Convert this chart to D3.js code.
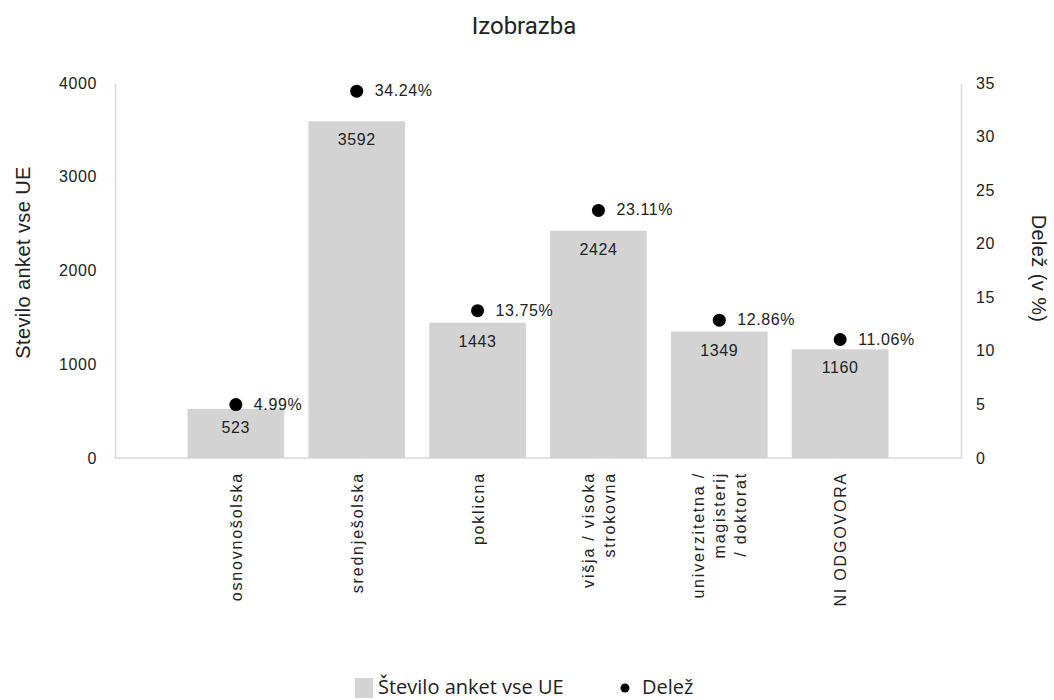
<!DOCTYPE html>
<meta charset="utf-8" />
<script src="https://d3js.org/d3.v7.min.js"></script>
<body style="margin:0">
  <div id="my_dataviz"></div>
  <script>
    // data
    const categories = ["osnovnošolska", "srednješolska", "poklicna", "višja / visoka strokovna", "univerzitetna / magisterij / doktorat", "NI ODGOVORA"];
    const labelLines = [["osnovnošolska"], ["srednješolska"], ["poklicna"], ["višja / visoka", "strokovna"], ["univerzitetna /", "magisterij", "/ doktorat"], ["NI ODGOVORA"]];
    const counts = [523, 3592, 1443, 2424, 1349, 1160];
    const shares = [4.99, 34.24, 13.75, 23.11, 12.86, 11.06];
    const leftTicks = [0, 1000, 2000, 3000, 4000];
    const rightTicks = [0, 5, 10, 15, 20, 25, 30, 35];

    const W = 1054, H = 700;
    const margin = { top: 83, right: 93, bottom: 242, left: 115 };
    const width = W - margin.left - margin.right,
      height = H - margin.top - margin.bottom;
    const FONT = "'Liberation Sans', Arial, sans-serif";

    const svg = d3.select("#my_dataviz").append("svg")
      .attr("width", W).attr("height", H)
      .style("font-family", FONT);

    const g = svg.append("g")
      .attr("transform", "translate(" + margin.left + "," + margin.top + ")");

    const x = d3.scaleBand().domain(categories).range([0, width])
      .paddingInner(0.2).paddingOuter(0.6);
    const yL = d3.scaleLinear().domain([0, 4000]).range([height, 0]);
    const yR = d3.scaleLinear().domain([0, 35]).range([height, 0]);

    // axes
    const axL = g.append("g").call(d3.axisLeft(yL).tickValues(leftTicks).tickFormat(d3.format("d")).tickSize(0).tickPadding(18));
    const axR = g.append("g").attr("transform", "translate(" + width + ",0)")
      .call(d3.axisRight(yR).tickValues(rightTicks).tickSize(0).tickPadding(15));
    [axL, axR].forEach(a => {
      a.select(".domain").attr("stroke", "#d9d9d9").attr("stroke-width", 1.5);
      a.selectAll("text").attr("font-size", 16).attr("fill", "#222")
        .attr("letter-spacing", "0.6px")
        .attr("font-family", FONT);
    });
    g.append("line").attr("x1", 0).attr("x2", width).attr("y1", height).attr("y2", height)
      .attr("stroke", "#d9d9d9").attr("stroke-width", 1.5);

    // bars
    g.selectAll(".bar").data(counts).enter().append("rect")
      .attr("x", (d, i) => x(categories[i]))
      .attr("y", d => yL(d))
      .attr("width", x.bandwidth())
      .attr("height", d => height - yL(d))
      .attr("fill", "#d3d3d3");

    g.selectAll(".barlab").data(counts).enter().append("text")
      .attr("x", (d, i) => x(categories[i]) + x.bandwidth() / 2)
      .attr("y", d => yL(d) + 24)
      .attr("text-anchor", "middle")
      .attr("font-size", 16).attr("fill", "#222").attr("letter-spacing", "0.6px")
      .text(d => d);

    // dots
    g.selectAll(".dot").data(shares).enter().append("circle")
      .attr("cx", (d, i) => x(categories[i]) + x.bandwidth() / 2)
      .attr("cy", d => yR(d))
      .attr("r", 6.5).attr("fill", "#000");

    g.selectAll(".dotlab").data(shares).enter().append("text")
      .attr("x", (d, i) => x(categories[i]) + x.bandwidth() / 2 + 18)
      .attr("y", d => yR(d) + 5)
      .attr("font-size", 16).attr("fill", "#222").attr("letter-spacing", "0.6px")
      .text(d => d.toFixed(2) + "%");

    // category labels, rotated
    const lineGap = 21;
    labelLines.forEach((lines, i) => {
      const cx = x(categories[i]) + x.bandwidth() / 2;
      const lab = g.append("text")
        .attr("transform", "translate(" + cx + "," + (height + 14) + ") rotate(-90)")
        .attr("text-anchor", "end")
        .attr("font-size", 16).attr("fill", "#222")
        .attr("letter-spacing", "1.8px");
      lines.forEach((t, j) => {
        lab.append("tspan")
          .attr("x", 0)
          .attr("y", (j - (lines.length - 1) / 2) * lineGap + 6)
          .text(t);
      });
    });

    // axis titles
    svg.append("text")
      .attr("transform", "translate(30," + (margin.top + height / 2 - 8) + ") rotate(-90)")
      .attr("text-anchor", "middle").attr("font-size", 20).attr("fill", "#222")
      .attr("letter-spacing", "0.4px")
      .text("Stevilo anket vse UE");
    svg.append("text")
      .attr("transform", "translate(1032," + (margin.top + height / 2 - 2) + ") rotate(90)")
      .attr("text-anchor", "middle").attr("font-size", 20).attr("fill", "#222")
      .attr("letter-spacing", "0.4px")
      .text("Delež (v %)");

    // title
    svg.append("text")
      .attr("x", 524).attr("y", 34)
      .attr("text-anchor", "middle").attr("font-size", 24).attr("fill", "#222")
      .attr("font-family", "Roboto, sans-serif")
      .text("Izobrazba");

    // legend
    const leg = svg.append("g").attr("font-family", "'Open Sans', sans-serif").attr("font-size", 20).attr("fill", "#222");
    leg.append("rect").attr("x", 355).attr("y", 678).attr("width", 18).attr("height", 20).attr("fill", "#d3d3d3");
    leg.append("text").attr("x", 378).attr("y", 694).text("Število anket vse UE");
    leg.append("circle").attr("cx", 625).attr("cy", 688).attr("r", 4.5).attr("fill", "#000");
    leg.append("text").attr("x", 642).attr("y", 694).text("Delež");
  </script>
</body>
